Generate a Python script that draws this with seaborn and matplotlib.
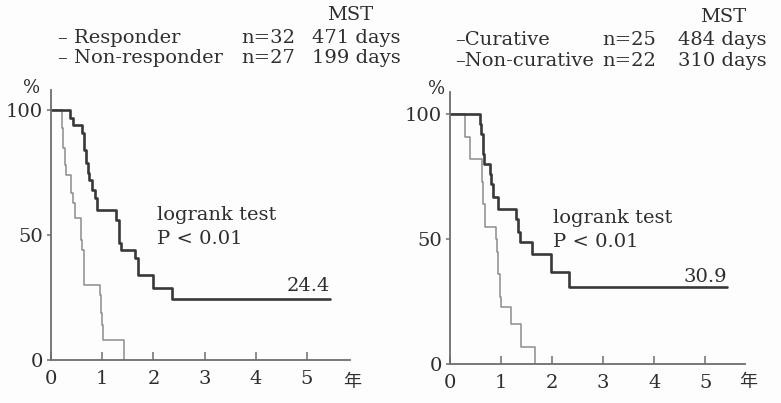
import matplotlib
matplotlib.use("Agg")
import matplotlib.pyplot as plt
import seaborn as sns
import pandas as pd

# ---------------- data ----------------
# Left panel: Kaplan-Meier steps (time in years, survival in %)
responder_t = [0, 0.37, 0.43, 0.60, 0.64, 0.69, 0.72, 0.75, 0.80, 0.85, 0.90,
               1.27, 1.33, 1.37, 1.64, 1.70, 2.00, 2.37, 5.45]
responder_s = [100, 97, 94, 91, 84, 79, 75, 72, 68, 65, 60,
               56, 47, 44, 41, 34, 29, 24.4, 24.4]
nonresp_t = [0, 0.21, 0.24, 0.27, 0.29, 0.39, 0.42, 0.46, 0.59, 0.61, 0.64,
             0.95, 0.97, 0.99, 1.02, 1.43]
nonresp_s = [100, 93, 85, 78, 74, 67, 63, 57, 48, 44, 30,
             26, 19, 14, 8, 0]

# Right panel
curative_t = [0, 0.59, 0.61, 0.64, 0.67, 0.78, 0.81, 0.84, 0.94, 1.30, 1.33,
              1.37, 1.60, 1.97, 2.33, 5.42]
curative_s = [100, 96, 92, 84, 80, 76, 72, 67, 62, 58, 53,
              49, 44, 37, 30.9, 30.9]
noncur_t = [0, 0.29, 0.40, 0.62, 0.65, 0.69, 0.91, 0.93, 0.95, 0.97, 0.99,
            1.20, 1.39, 1.66]
noncur_s = [100, 91, 82, 73, 64, 55, 50, 45, 36, 27, 23,
            16, 7, 0]

left_groups = ["Responder", "Non-responder"]
left_n = ["n=32", "n=27"]
left_mst = ["471 days", "199 days"]
right_groups = ["Curative", "Non-curative"]
right_n = ["n=25", "n=22"]
right_mst = ["484 days", "310 days"]
left_end_label = "24.4"
right_end_label = "30.9"
y_ticks = [0, 50, 100]
x_ticks = [0, 1, 2, 3, 4, 5]

# ---------------- style ----------------
sns.set_theme(style="white")
plt.rcParams["font.family"] = ["DejaVu Serif", "Noto Sans CJK JP"]
TXT = "#2e2e2e"
AX = "#6e6e6e"
FS = 14

W, H = 781, 403
fig = plt.figure(figsize=(W / 100, H / 100), dpi=100)
fig.patch.set_facecolor("#fdfdfd")


def px(x, y):
    return x / W, 1 - y / H


def make_axes(x0, y0, x1, y1, xmax, ymax):
    ax = fig.add_axes([x0 / W, 1 - y1 / H, (x1 - x0) / W, (y1 - y0) / H])
    ax.set_facecolor("none")
    ax.set_xlim(0, xmax)
    ax.set_ylim(0, ymax)
    for s in ["top", "right"]:
        ax.spines[s].set_visible(False)
    for s in ["left", "bottom"]:
        ax.spines[s].set_color(AX)
        ax.spines[s].set_linewidth(1.3)
    ax.set_xticks(x_ticks)
    ax.set_yticks(y_ticks)
    ax.tick_params(axis="x", direction="in", length=6, width=1.1, color=AX,
                   labelsize=FS, labelcolor=TXT, pad=7, bottom=True)
    ax.tick_params(axis="y", direction="out", length=3, width=1.1, color=AX,
                   labelsize=FS, labelcolor=TXT, pad=3, left=True)
    ax.set_xlabel("")
    ax.set_ylabel("")
    return ax


def draw(ax, t, s, color, lw):
    df = pd.DataFrame({"t": t, "s": s})
    sns.lineplot(data=df, x="t", y="s", ax=ax, color=color, linewidth=lw,
                 drawstyle="steps-post", legend=False, estimator=None)
    ax.set_xlabel("")
    ax.set_ylabel("")


# Left panel
axL = make_axes(51, 90, 350, 360, 5.84, 108)
draw(axL, nonresp_t, nonresp_s, "#8c8c8c", 1.1)
draw(axL, responder_t, responder_s, "#383838", 1.9)
axL.text(2.07, 58, "logrank test", fontsize=FS, color=TXT, va="center", ha="left")
axL.text(2.07, 48.5, "P < 0.01", fontsize=FS, color=TXT, va="center", ha="left")
axL.text(5.45, 29.5, left_end_label, fontsize=FS, color=TXT, va="center", ha="right")

# Right panel
axR = make_axes(450, 92, 745, 364, 5.78, 109)
draw(axR, noncur_t, noncur_s, "#8c8c8c", 1.1)
draw(axR, curative_t, curative_s, "#383838", 1.9)
axR.text(2.02, 58.5, "logrank test", fontsize=FS, color=TXT, va="center", ha="left")
axR.text(2.02, 49, "P < 0.01", fontsize=FS, color=TXT, va="center", ha="left")
axR.text(5.43, 35, right_end_label, fontsize=FS, color=TXT, va="center", ha="right")

# Units
for (x, y, s) in [(32, 88, "%"), (437, 89, "%")]:
    fig.text(*px(x, y), s, fontsize=FS - 1, color=TXT, ha="center", va="center")
for (x, y) in [(352, 382), (748, 382)]:
    fig.text(*px(x, y), "年", fontsize=FS - 1, color=TXT, ha="center", va="center",
             family=["Noto Sans CJK JP", "DejaVu Serif"])

# Header legends
fig.text(*px(350, 15), "MST", fontsize=FS, color=TXT, ha="center", va="center")
fig.text(*px(723, 17), "MST", fontsize=FS, color=TXT, ha="center", va="center")
for i, yy in enumerate([38, 58]):
    fig.text(*px(58, yy), "– " + left_groups[i], fontsize=FS, color=TXT, ha="left", va="center")
    fig.text(*px(241, yy), left_n[i], fontsize=FS, color=TXT, ha="left", va="center")
    fig.text(*px(312, yy), left_mst[i], fontsize=FS, color=TXT, ha="left", va="center")
for i, yy in enumerate([40, 61]):
    fig.text(*px(455, yy), "–" + right_groups[i], fontsize=FS, color=TXT, ha="left", va="center")
    fig.text(*px(602, yy), right_n[i], fontsize=FS, color=TXT, ha="left", va="center")
    fig.text(*px(678, yy), right_mst[i], fontsize=FS, color=TXT, ha="left", va="center")

fig.savefig("out.png", dpi=100, facecolor=fig.get_facecolor())
